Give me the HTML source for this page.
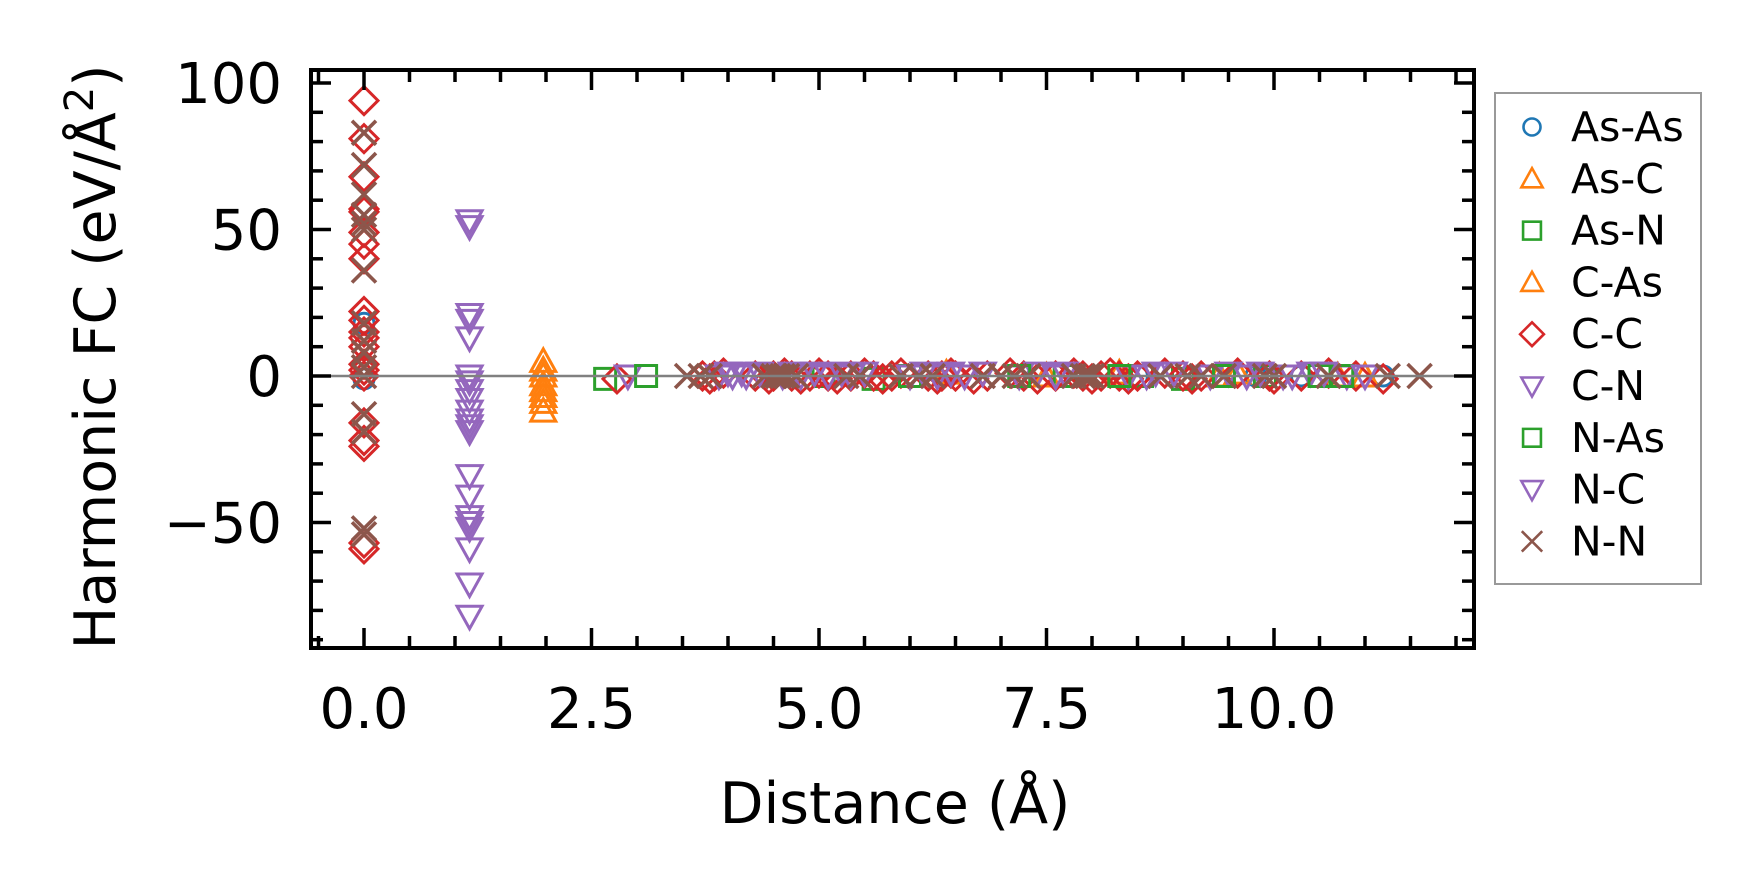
<!DOCTYPE html>
<html><head><meta charset="utf-8"><style>
html,body{margin:0;padding:0;background:#fff;}
svg{display:block;font-family:"DejaVu Sans","Liberation Sans",sans-serif;}
</style></head><body>
<svg id="chart" width="1761" height="894" viewBox="0 0 1761 894" xmlns="http://www.w3.org/2000/svg">
<g id="plot"></g>
<g id="axes"></g>
<g id="legend"></g>
</svg>
<script>
// ---- data ----
const xTickLabels = ["0.0","2.5","5.0","7.5","10.0"];
const xTickValues = [0,2.5,5,7.5,10];
const yTickLabels = ["100","50","0","\u221250"];
const yTickValues = [100,50,0,-50];
const seriesNames = ["As-As","As-C","As-N","C-As","C-C","C-N","N-As","N-C","N-N"];

const asAsDist = [0,0,8.5,9.8,10.3,11.2];
const asAsVal  = [18,-1,0,0,0,0];
const asCDist = [1.97,1.97,1.97,1.97,6.4,7.5,8.3,9.4,9.6];
const asCVal  = [5,2,0,-3,1,0,1,0,1];
const asNDist = [2.65,5.05,5.6,7.7,8.55,9.0,9.9];
const asNVal  = [-1,0,-1,0,0,-1,0];
const cAsDist = [1.97,1.97,1.97,1.97,10.7,11.0];
const cAsVal  = [-5,-7,-9,-12,0,0];
const ccDist = [0,0,0,0,0,0,0,0,0,0,0,0,0,0,0,0,0,0,0,0,0,2.78,3.72,3.8,3.85,3.95,4.3,4.45,4.5,4.62,4.7,4.8,4.9,5.0,5.1,5.2,5.35,5.5,5.6,5.7,5.8,5.9,6.2,6.3,6.35,6.45,6.5,6.7,6.85,7.1,7.25,7.4,7.6,7.8,7.9,8.0,8.1,8.2,8.3,8.4,8.5,8.8,9.0,9.1,9.2,9.6,9.95,10.0,10.3,10.6,10.9,11.2];
const ccVal  = [94,81,68,57,56,49,45,40,22,19,15,13,10,4,2,0,-16,-22,-24,-57,-59,-1,0,-1,0,1,0,-1,0,1,0,-1,0,1,0,-1,0,1,0,-1,0,1,0,-1,0,1,0,-1,0,1,0,-1,0,1,0,-1,0,1,0,-1,0,1,0,-1,0,1,0,-1,0,1,0,-1];
const cnDist = [1.16,1.16,1.16,1.16,1.16,1.16,1.16,1.16,1.16,1.16,1.16,2.9,3.9,4.0,4.2,4.35,4.8,4.95,5.35,5.5,6.3,6.45,7.2,7.4,8.4,8.7,9.3,9.5,10.1,10.4,10.8];
const cnVal  = [53,21,13,0,-5,-12,-17,-34,-48,-52,-71,0,0,1,0,1,0,1,0,1,0,1,0,1,0,1,0,1,0,1,0];
const nAsDist = [3.1,6.0,7.2,8.3,9.45,10.5,10.75];
const nAsVal  = [0,0,0,0,0,0,0];
const ncDist = [1.16,1.16,1.16,1.16,1.16,1.16,1.16,1.16,1.16,1.16,4.05,4.15,4.6,4.7,5.1,5.25,6.0,6.15,6.6,6.8,7.6,7.7,8.6,8.9,9.7,9.85,10.2,10.55,11.0];
const ncVal  = [51,19,-2,-8,-15,-19,-41,-50,-59,-82,0,1,0,1,0,1,0,1,0,1,0,1,0,1,0,1,0,1,0];
const nnDist = [0,0,0,0,0,0,0,0,0,0,0,0,0,0,0,0,3.55,3.7,3.8,4.4,4.5,4.55,4.6,4.65,4.75,5.3,5.45,5.9,6.1,6.25,6.8,7.0,7.15,7.3,7.8,7.9,7.95,8.0,8.75,9.05,9.2,9.45,9.9,10.0,10.6,11.25,11.6];
const nnVal  = [83,72,62,55,52,50,36,18,12,8,3,0,-13,-19,-52,-54,0,0,0,0,0,0,0,0,0,0,0,0,0,0,0,0,0,0,0,0,0,0,0,0,0,0,0,0,0,0,0];

// ---- scales ----
const L=311,R=1474,T=70,B=648;
const X=d=>364+91*d;
const Y=v=>376-2.93*v;
const NS="http://www.w3.org/2000/svg";
function mk(tag,parent,attrs){const e=document.createElementNS(NS,tag);for(const k in attrs)e.setAttribute(k,attrs[k]);parent.appendChild(e);return e;}

const colors={"As-As":"#1f77b4","As-C":"#ff7f0e","As-N":"#2ca02c","C-As":"#ff7f0e","C-C":"#d62728","C-N":"#9467bd","N-As":"#2ca02c","N-C":"#9467bd","N-N":"#8c564b"};
const shapes={"As-As":"o","As-C":"^","As-N":"s","C-As":"^","C-C":"D","C-N":"v","N-As":"s","N-C":"v","N-N":"x"};
function markerPath(s,x,y,k){
  if(s==="D")return `M${x} ${y-14*k}L${x+14*k} ${y}L${x} ${y+14*k}L${x-14*k} ${y}Z`;
  if(s==="^")return `M${x} ${y-12.5*k}L${x+12.5*k} ${y+10*k}L${x-12.5*k} ${y+10*k}Z`;
  if(s==="v")return `M${x} ${y+12.5*k}L${x+12.5*k} ${y-10*k}L${x-12.5*k} ${y-10*k}Z`;
  if(s==="s")return `M${x-10.5*k} ${y-10.5*k}h${21*k}v${21*k}h${-21*k}Z`;
  if(s==="x")return `M${x-12*k} ${y-12*k}L${x+12*k} ${y+12*k}M${x+12*k} ${y-12*k}L${x-12*k} ${y+12*k}`;
  return `M${x-10*k} ${y}a${10*k} ${10*k} 0 1 0 ${20*k} 0a${10*k} ${10*k} 0 1 0 ${-20*k} 0Z`;
}

const plot=document.getElementById('plot');
const axes=document.getElementById('axes');
const legend=document.getElementById('legend');

const seriesData=[[asAsDist,asAsVal],[asCDist,asCVal],[asNDist,asNVal],[cAsDist,cAsVal],[ccDist,ccVal],[cnDist,cnVal],[nAsDist,nAsVal],[ncDist,ncVal],[nnDist,nnVal]];
seriesNames.forEach((name,i)=>{
  const g=mk('g',plot,{});
  
  
  const [ds,vs]=seriesData[i];
  ds.forEach((d,j)=>{
    const p=mk('path',g,{d:markerPath(shapes[name],X(d),Y(vs[j]),1),fill:'none',stroke:colors[name],'stroke-width':shapes[name]==='x'?3.6:3});
    
    
  });
});

// zero line (drawn over markers as in reference)
const zl=mk('line',plot,{x1:L,x2:R,y1:Y(0),y2:Y(0),stroke:'#808080','stroke-width':2.5});



// frame
const fr=mk('rect',axes,{x:L,y:T,width:R-L,height:B-T,fill:'none',stroke:'#000','stroke-width':4});



for(let d=-0.5;d<=12.01;d+=0.5){
  const major=Math.abs(d/2.5-Math.round(d/2.5))<1e-6;
  const len=major?20:12, x=X(d);
  mk('line',axes,{x1:x,x2:x,y1:B,y2:B-len,stroke:'#000','stroke-width':3.5});
  mk('line',axes,{x1:x,x2:x,y1:T,y2:T+len,stroke:'#000','stroke-width':3.5});
}
for(let v=-90;v<=100;v+=10){
  const major=v%50===0;
  const len=major?20:12, y=Y(v);
  mk('line',axes,{x1:L,x2:L+len,y1:y,y2:y,stroke:'#000','stroke-width':3.5});
  mk('line',axes,{x1:R,x2:R-len,y1:y,y2:y,stroke:'#000','stroke-width':3.5});
}
xTickLabels.forEach((t,i)=>{
  const e=mk('text',axes,{x:X(xTickValues[i]),y:728,'text-anchor':'middle','font-size':56,fill:'#000'});
  e.textContent=t;
  
  
});
yTickLabels.forEach((t,i)=>{
  const e=mk('text',axes,{x:282,y:Y(yTickValues[i])+20,'text-anchor':'end','font-size':56,fill:'#000'});
  e.textContent=t;
  
  
});
const xt=mk('text',axes,{x:895,y:823,'text-anchor':'middle','font-size':57,fill:'#000'});
xt.textContent="Distance (Å)";


const yt=mk('text',axes,{x:0,y:0,'text-anchor':'middle','font-size':57,fill:'#000',transform:'translate(115,357) rotate(-90)'});
yt.innerHTML='Harmonic FC (eV/Å<tspan dy="-22" font-size="40">2</tspan><tspan dy="22">)</tspan>';



// legend
const lb=mk('rect',legend,{x:1495,y:93,width:206,height:491,fill:'#fff',stroke:'#999','stroke-width':2});


seriesNames.forEach((name,i)=>{
  const y=127+51.8*i;
  const g=mk('g',legend,{});
  
  
  mk('path',g,{d:markerPath(shapes[name],1532,y,0.85),fill:'none',stroke:colors[name],'stroke-width':2.6});
  const t=mk('text',g,{x:1571,y:y+14,'font-size':41,fill:'#000'});
  t.textContent=name;
});
</script>
</body></html>
